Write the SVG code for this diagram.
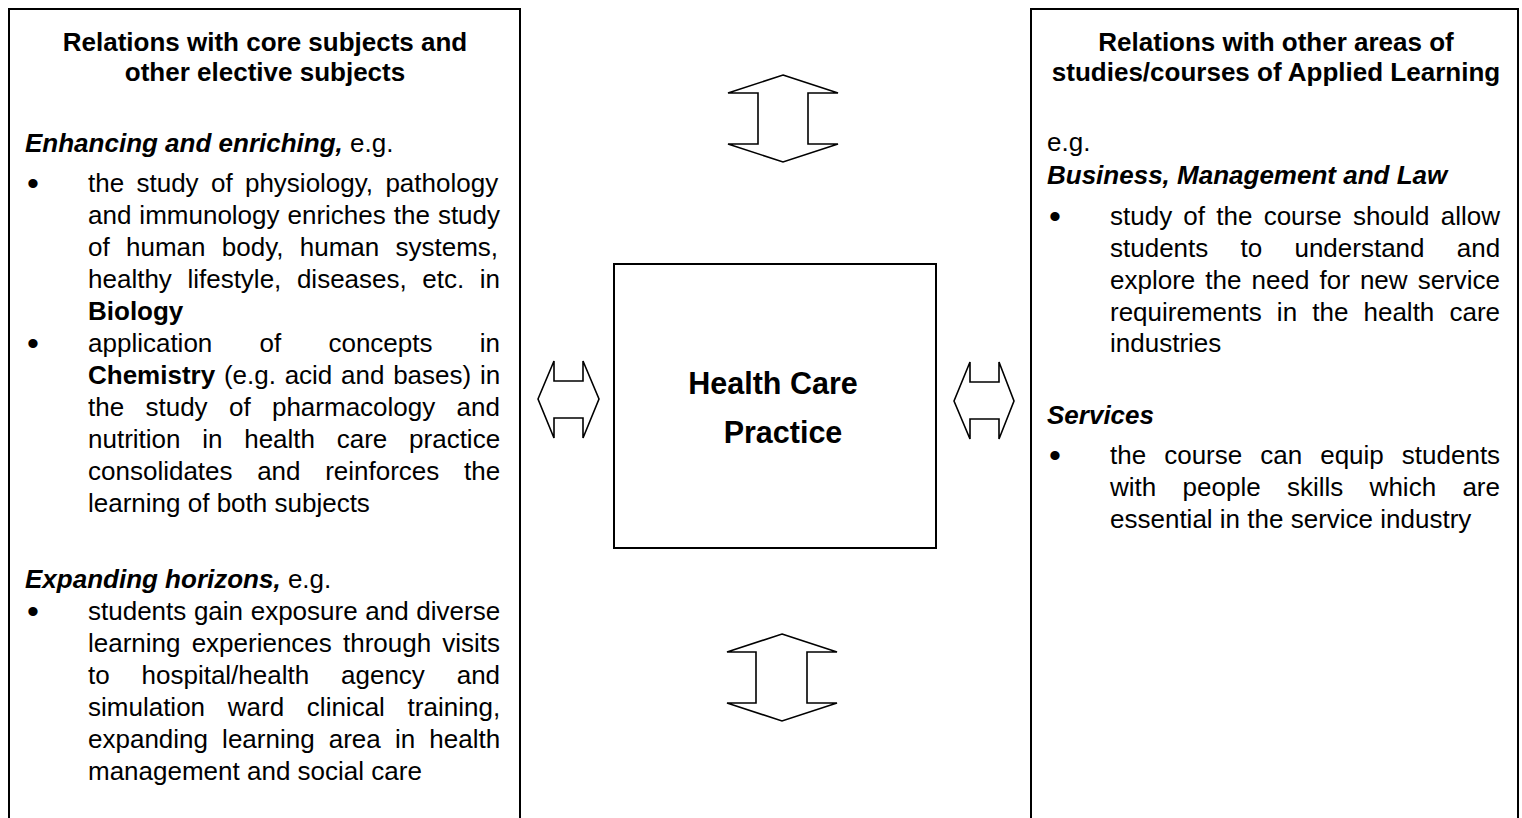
<svg xmlns="http://www.w3.org/2000/svg" width="1522" height="818" viewBox="0 0 1522 818">
<style>
.t{font-family:"Liberation Sans",Arial,Helvetica,sans-serif;font-size:26px;fill:#000}
.b{font-weight:bold}
.bi{font-weight:bold;font-style:italic}
.ctr{text-anchor:middle}
.bul{font-family:"Liberation Sans",Arial,Helvetica,sans-serif;font-size:34px;fill:#000;text-anchor:middle}
.box{fill:#fff;stroke:#000;stroke-width:2}
.arr{fill:#fff;stroke:#000;stroke-width:1.6;stroke-linejoin:miter}
.c{font-family:"Liberation Sans",Arial,Helvetica,sans-serif;font-size:30.5px;font-weight:bold;text-anchor:middle;fill:#000}
</style>
<rect width="1522" height="818" fill="#fff"/>
<g id="node-left">
<path class="box" d="M9,830 V9 H520 V830"/>
<text class="t b ctr" x="265" y="51">Relations with core subjects and</text>
<text class="t b ctr" x="265" y="81">other elective subjects</text>
<text class="t" x="25" y="152"><tspan class="bi">Enhancing and enriching,</tspan> e.g.</text>
<text class="bul" x="33" y="195">•</text>
<text class="t" x="88" y="192" style="word-spacing:5.1px">the study of physiology, pathology</text>
<text class="t" x="88" y="224" style="word-spacing:0.76px">and immunology enriches the study</text>
<text class="t" x="88" y="256" style="word-spacing:9.07px">of human body, human systems,</text>
<text class="t" x="88" y="288" style="word-spacing:8.35px">healthy lifestyle, diseases, etc. in</text>
<text class="t b" x="88" y="320">Biology</text>
<text class="bul" x="33" y="355">•</text>
<text class="t" x="88" y="352" style="word-spacing:40px">application of concepts in</text>
<text class="t" x="88" y="384" style="word-spacing:1.5px"><tspan class="b">Chemistry</tspan> (e.g. acid and bases) in</text>
<text class="t" x="88" y="416" style="word-spacing:14.1px">the study of pharmacology and</text>
<text class="t" x="88" y="448" style="word-spacing:14.5px">nutrition in health care practice</text>
<text class="t" x="88" y="480" style="word-spacing:17.4px">consolidates and reinforces the</text>
<text class="t" x="88" y="512">learning of both subjects</text>
<text class="t" x="25" y="588"><tspan class="bi">Expanding horizons,</tspan> e.g.</text>
<text class="bul" x="33" y="623">•</text>
<text class="t" x="88" y="620" style="word-spacing:0.4px">students gain exposure and diverse</text>
<text class="t" x="88" y="652" style="word-spacing:3.9px">learning experiences through visits</text>
<text class="t" x="88" y="684" style="word-spacing:24.6px">to hospital/health agency and</text>
<text class="t" x="88" y="716" style="word-spacing:15.5px">simulation ward clinical training,</text>
<text class="t" x="88" y="748" style="word-spacing:6.9px">expanding learning area in health</text>
<text class="t" x="88" y="780">management and social care</text>
</g>
<g id="node-right">
<path class="box" d="M1031,830 V9 H1518 V830"/>
<text class="t b ctr" x="1276" y="51">Relations with other areas of</text>
<text class="t b ctr" x="1276" y="81">studies/courses of Applied Learning</text>
<text class="t" x="1047" y="151">e.g.</text>
<text class="t bi" x="1047" y="184">Business, Management and Law</text>
<text class="bul" x="1055" y="228">•</text>
<text class="t" x="1110" y="225" style="word-spacing:4px">study of the course should allow</text>
<text class="t" x="1110" y="257" style="word-spacing:25px">students to understand and</text>
<text class="t" x="1110" y="289" style="word-spacing:2.85px">explore the need for new service</text>
<text class="t" x="1110" y="321" style="word-spacing:7.9px">requirements in the health care</text>
<text class="t" x="1110" y="352">industries</text>
<text class="t bi" x="1047" y="424">Services</text>
<text class="bul" x="1055" y="467">•</text>
<text class="t" x="1110" y="464" style="word-spacing:10.8px">the course can equip students</text>
<text class="t" x="1110" y="496" style="word-spacing:19.1px">with people skills which are</text>
<text class="t" x="1110" y="528">essential in the service industry</text>
</g>
<g id="node-center">
<rect class="box" x="614" y="264" width="322" height="284"/>
<text class="c" x="773" y="394">Health Care</text>
<text class="c" x="783" y="443">Practice</text>
</g>
<g id="connectors">
<path id="arrow-top" class="arr" d="M783,75 L838,93 L808,93 L808,144 L838,144 L783,162 L728,144 L758,144 L758,93 L728,93 Z"/>
<path id="arrow-bottom" class="arr" d="M782,634 L837,652 L807,652 L807,703 L837,703 L782,721 L727,703 L756,703 L756,652 L727,652 Z"/>
<path id="arrow-left" class="arr" d="M538,399 L554,361 L554,381 L583,381 L583,361 L599,399 L583,438 L583,418 L554,418 L554,438 Z"/>
<path id="arrow-right" class="arr" d="M954,401 L970,362 L970,382 L999,382 L999,362 L1014,401 L999,439 L999,419 L970,419 L970,439 Z"/>
</g>
</svg>
